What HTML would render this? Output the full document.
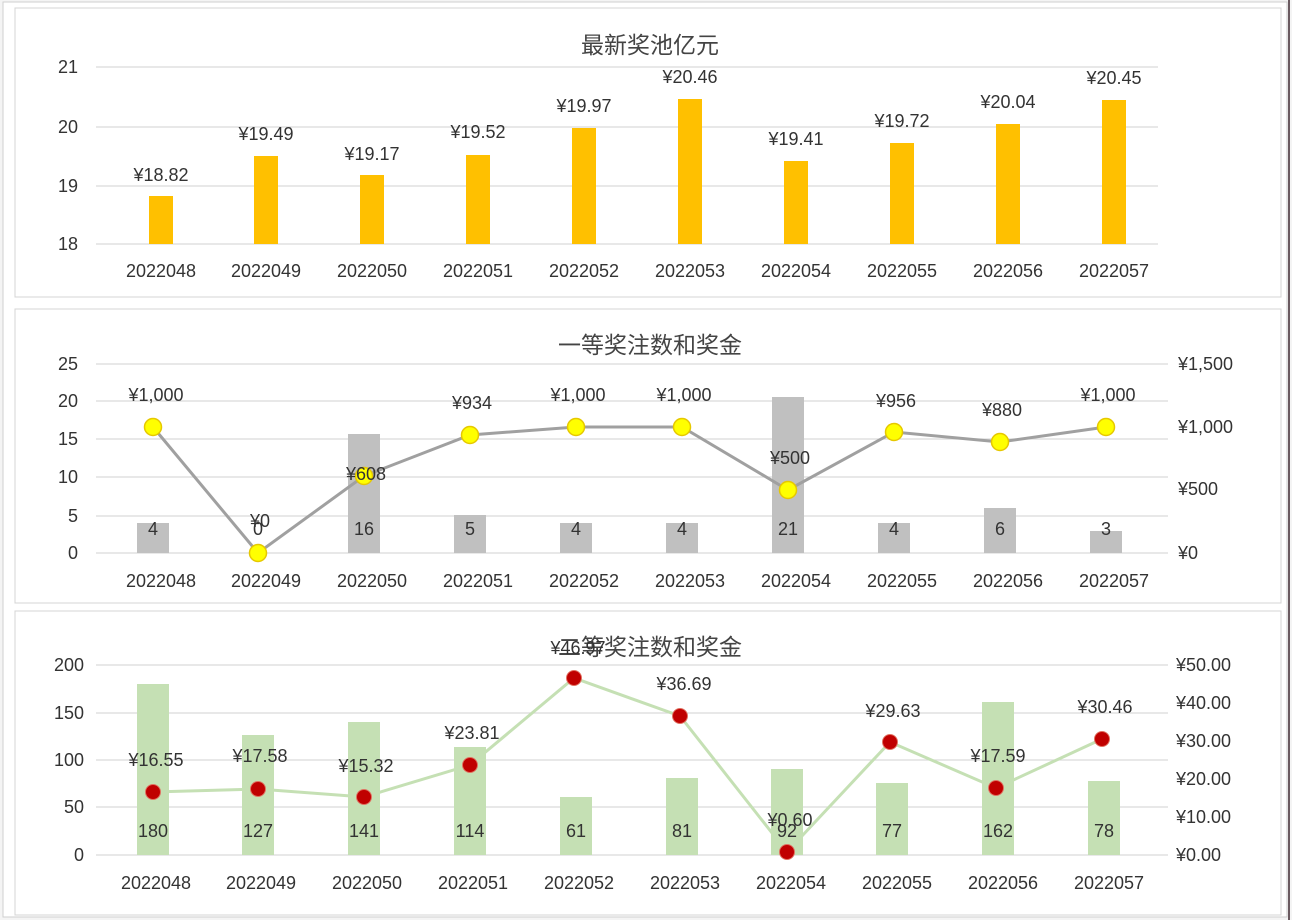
<!DOCTYPE html>
<html><head><meta charset="utf-8"><style>
html,body{margin:0;padding:0;background:#fff;}
svg{display:block;font-family:"Liberation Sans","Noto Sans CJK SC",sans-serif;}
text{fill:#333;font-size:18px;}
.t{font-size:23px;text-anchor:middle;fill:#444;}
.c{text-anchor:middle;}
.r{text-anchor:end;}
.g{stroke:#d9d9d9;stroke-width:1.2;}
</style></head><body>
<svg width="1292" height="920" viewBox="0 0 1292 920">
<rect x="0" y="0" width="1292" height="920" fill="#f4f4f4"/>
<rect x="3" y="2" width="1284" height="915" fill="#fff" stroke="#cfcfcf"/>
<line x1="1289" y1="0" x2="1289" y2="920" stroke="#6a5a60" stroke-width="2"/>
<!-- Panel 1 -->
<rect x="15" y="8" width="1266" height="289" fill="#fff" stroke="#d4d4d4"/>
<text class="t" x="650" y="53">最新奖池亿元</text>
<g class="g"><line x1="96" y1="67" x2="1158" y2="67"/><line x1="96" y1="127" x2="1158" y2="127"/><line x1="96" y1="186" x2="1158" y2="186"/><line x1="96" y1="244" x2="1158" y2="244"/></g>
<g class="r"><text x="78" y="73">21</text><text x="78" y="133">20</text><text x="78" y="192">19</text><text x="78" y="250">18</text></g>
<g fill="#ffc000">
<rect x="149" y="196" width="24" height="48"/><rect x="254" y="156" width="24" height="88"/><rect x="360" y="175" width="24" height="69"/><rect x="466" y="155" width="24" height="89"/><rect x="572" y="128" width="24" height="116"/><rect x="678" y="99" width="24" height="145"/><rect x="784" y="161" width="24" height="83"/><rect x="890" y="143" width="24" height="101"/><rect x="996" y="124" width="24" height="120"/><rect x="1102" y="100" width="24" height="144"/>
</g>
<g class="c"><text x="161" y="181">¥18.82</text><text x="266" y="140">¥19.49</text><text x="372" y="160">¥19.17</text><text x="478" y="138">¥19.52</text><text x="584" y="112">¥19.97</text><text x="690" y="83">¥20.46</text><text x="796" y="145">¥19.41</text><text x="902" y="127">¥19.72</text><text x="1008" y="108">¥20.04</text><text x="1114" y="84">¥20.45</text></g>
<g class="c"><text x="161" y="277">2022048</text><text x="266" y="277">2022049</text><text x="372" y="277">2022050</text><text x="478" y="277">2022051</text><text x="584" y="277">2022052</text><text x="690" y="277">2022053</text><text x="796" y="277">2022054</text><text x="902" y="277">2022055</text><text x="1008" y="277">2022056</text><text x="1114" y="277">2022057</text></g>
<!-- Panel 2 -->
<rect x="15" y="309" width="1266" height="294" fill="#fff" stroke="#d4d4d4"/>
<text class="t" x="650" y="353">一等奖注数和奖金</text>
<g class="g"><line x1="96" y1="364" x2="1168" y2="364"/><line x1="96" y1="401" x2="1168" y2="401"/><line x1="96" y1="439" x2="1168" y2="439"/><line x1="96" y1="477" x2="1168" y2="477"/><line x1="96" y1="516" x2="1168" y2="516"/><line x1="96" y1="553" x2="1168" y2="553"/></g>
<g class="r"><text x="78" y="370">25</text><text x="78" y="407">20</text><text x="78" y="445">15</text><text x="78" y="483">10</text><text x="78" y="522">5</text><text x="78" y="559">0</text></g>
<g><text x="1178" y="370">¥1,500</text><text x="1178" y="433">¥1,000</text><text x="1178" y="495">¥500</text><text x="1178" y="559">¥0</text></g>
<g fill="#c0c0c0">
<rect x="137" y="523" width="32" height="30"/><rect x="348" y="434" width="32" height="119"/><rect x="454" y="515" width="32" height="38"/><rect x="560" y="523" width="32" height="30"/><rect x="666" y="523" width="32" height="30"/><rect x="772" y="397" width="32" height="156"/><rect x="878" y="523" width="32" height="30"/><rect x="984" y="508" width="32" height="45"/><rect x="1090" y="531" width="32" height="22"/>
</g>
<g class="c"><text x="153" y="535">4</text><text x="258" y="535">0</text><text x="364" y="535">16</text><text x="470" y="535">5</text><text x="576" y="535">4</text><text x="682" y="535">4</text><text x="788" y="535">21</text><text x="894" y="535">4</text><text x="1000" y="535">6</text><text x="1106" y="535">3</text></g>
<polyline fill="none" stroke="#a0a0a0" stroke-width="3" points="153,427 258,553 364,476 470,435 576,427 682,427 788,490 894,432 1000,442 1106,427"/>
<g fill="#ffff00" stroke="#e6c800" stroke-width="1.5">
<circle cx="153" cy="427" r="8.5"/><circle cx="258" cy="553" r="8.5"/><circle cx="364" cy="476" r="8.5"/><circle cx="470" cy="435" r="8.5"/><circle cx="576" cy="427" r="8.5"/><circle cx="682" cy="427" r="8.5"/><circle cx="788" cy="490" r="8.5"/><circle cx="894" cy="432" r="8.5"/><circle cx="1000" cy="442" r="8.5"/><circle cx="1106" cy="427" r="8.5"/>
</g>
<g class="c"><text x="156" y="401">¥1,000</text><text x="260" y="527">¥0</text><text x="366" y="480">¥608</text><text x="472" y="409">¥934</text><text x="578" y="401">¥1,000</text><text x="684" y="401">¥1,000</text><text x="790" y="464">¥500</text><text x="896" y="407">¥956</text><text x="1002" y="416">¥880</text><text x="1108" y="401">¥1,000</text></g>
<g class="c"><text x="161" y="587">2022048</text><text x="266" y="587">2022049</text><text x="372" y="587">2022050</text><text x="478" y="587">2022051</text><text x="584" y="587">2022052</text><text x="690" y="587">2022053</text><text x="796" y="587">2022054</text><text x="902" y="587">2022055</text><text x="1008" y="587">2022056</text><text x="1114" y="587">2022057</text></g>
<!-- Panel 3 -->
<rect x="15" y="611" width="1266" height="304" fill="#fff" stroke="#d4d4d4"/>
<g class="g"><line x1="96" y1="665" x2="1168" y2="665"/><line x1="96" y1="713" x2="1168" y2="713"/><line x1="96" y1="760" x2="1168" y2="760"/><line x1="96" y1="807" x2="1168" y2="807"/><line x1="96" y1="855" x2="1168" y2="855"/></g>
<g class="r"><text x="84" y="671">200</text><text x="84" y="719">150</text><text x="84" y="766">100</text><text x="84" y="813">50</text><text x="84" y="861">0</text></g>
<g><text x="1176" y="671">¥50.00</text><text x="1176" y="709">¥40.00</text><text x="1176" y="747">¥30.00</text><text x="1176" y="785">¥20.00</text><text x="1176" y="823">¥10.00</text><text x="1176" y="861">¥0.00</text></g>
<g fill="#c5e0b4">
<rect x="137" y="684" width="32" height="171"/><rect x="242" y="735" width="32" height="120"/><rect x="348" y="722" width="32" height="133"/><rect x="454" y="747" width="32" height="108"/><rect x="560" y="797" width="32" height="58"/><rect x="666" y="778" width="32" height="77"/><rect x="771" y="769" width="32" height="86"/><rect x="876" y="783" width="32" height="72"/><rect x="982" y="702" width="32" height="153"/><rect x="1088" y="781" width="32" height="74"/>
</g>
<g class="c"><text x="153" y="837">180</text><text x="258" y="837">127</text><text x="364" y="837">141</text><text x="470" y="837">114</text><text x="576" y="837">61</text><text x="682" y="837">81</text><text x="787" y="837">92</text><text x="892" y="837">77</text><text x="998" y="837">162</text><text x="1104" y="837">78</text></g>
<polyline fill="none" stroke="#c5e0b4" stroke-width="3" points="153,792 258,789 364,797 470,765 574,678 680,716 787,852 890,742 996,788 1102,739"/>
<g fill="#c00000" stroke="#e07060" stroke-width="1">
<circle cx="153" cy="792" r="7.5"/><circle cx="258" cy="789" r="7.5"/><circle cx="364" cy="797" r="7.5"/><circle cx="470" cy="765" r="7.5"/><circle cx="574" cy="678" r="7.5"/><circle cx="680" cy="716" r="7.5"/><circle cx="787" cy="852" r="7.5"/><circle cx="890" cy="742" r="7.5"/><circle cx="996" cy="788" r="7.5"/><circle cx="1102" cy="739" r="7.5"/>
</g>
<text class="t" x="650" y="655">二等奖注数和奖金</text>
<g class="c"><text x="156" y="766">¥16.55</text><text x="260" y="762">¥17.58</text><text x="366" y="772">¥15.32</text><text x="472" y="739">¥23.81</text><text x="578" y="654">¥46.97</text><text x="684" y="690">¥36.69</text><text x="790" y="826">¥0.60</text><text x="893" y="717">¥29.63</text><text x="998" y="762">¥17.59</text><text x="1105" y="713">¥30.46</text></g>
<g class="c"><text x="156" y="889">2022048</text><text x="261" y="889">2022049</text><text x="367" y="889">2022050</text><text x="473" y="889">2022051</text><text x="579" y="889">2022052</text><text x="685" y="889">2022053</text><text x="791" y="889">2022054</text><text x="897" y="889">2022055</text><text x="1003" y="889">2022056</text><text x="1109" y="889">2022057</text></g>
</svg>
</body></html>
